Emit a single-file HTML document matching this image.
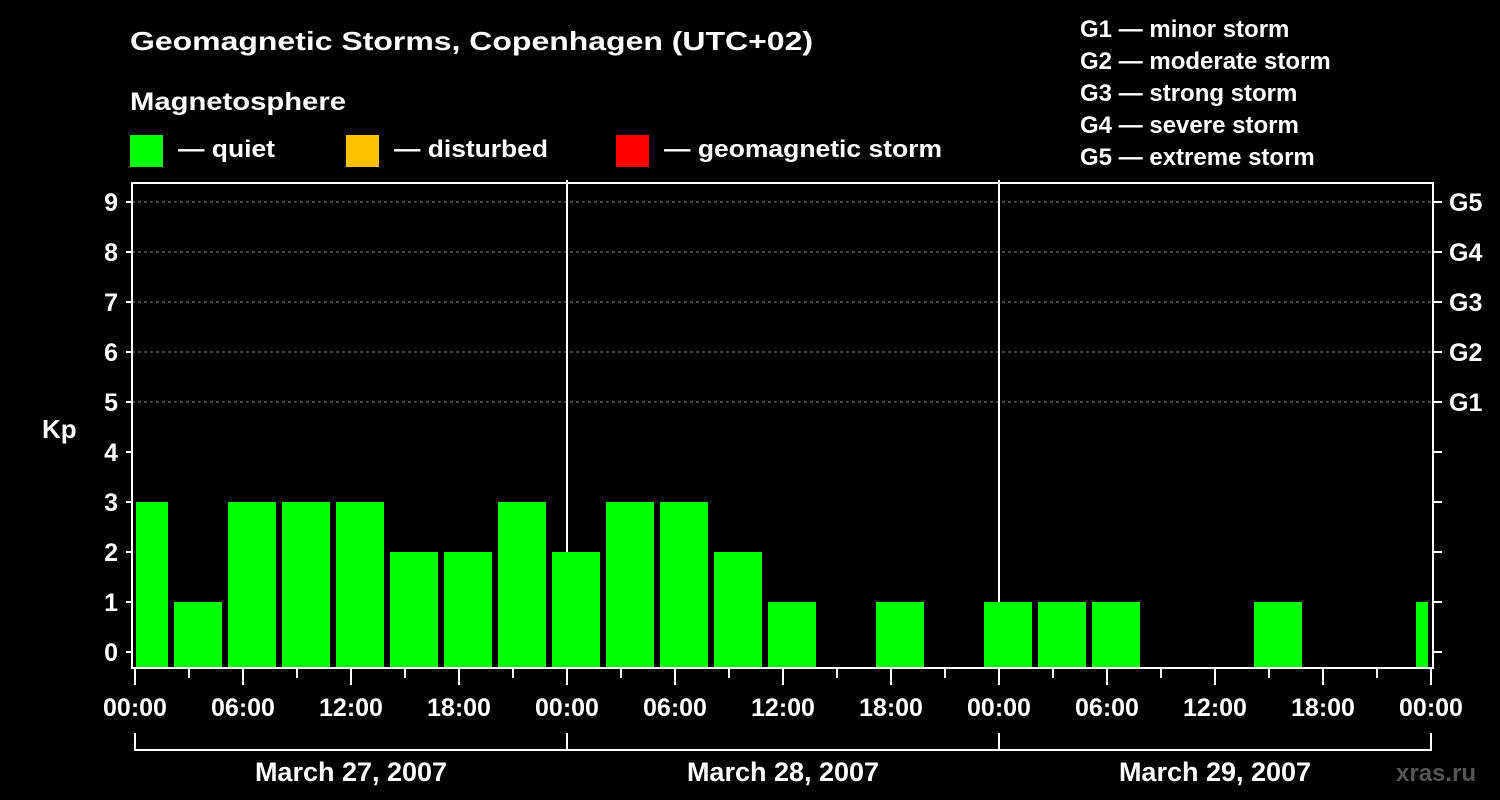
<!DOCTYPE html>
<html><head><meta charset="utf-8"><style>
html,body{margin:0;padding:0;background:#000;}
svg{display:block;font-family:"Liberation Sans",Arial,sans-serif;font-weight:bold;}
</style></head><body>
<svg id="chart" width="1500" height="800" viewBox="0 0 1500 800" xmlns="http://www.w3.org/2000/svg">
<rect width="1500" height="800" fill="#000"/>
<g fill="#fff">
<text x="130" y="50" font-size="26" textLength="683" lengthAdjust="spacingAndGlyphs">Geomagnetic Storms, Copenhagen (UTC+02)</text>
<text x="130" y="110" font-size="25" textLength="216" lengthAdjust="spacingAndGlyphs">Magnetosphere</text>
<rect x="130" y="135" width="33" height="32" fill="#00ff00"/>
<text x="178" y="157" font-size="24" textLength="97" lengthAdjust="spacingAndGlyphs">— quiet</text>
<rect x="346" y="135" width="33" height="32" fill="#ffc000"/>
<text x="394" y="157" font-size="24" textLength="154" lengthAdjust="spacingAndGlyphs">— disturbed</text>
<rect x="616" y="135" width="33" height="32" fill="#ff0000"/>
<text x="664" y="157" font-size="24" textLength="278" lengthAdjust="spacingAndGlyphs">— geomagnetic storm</text>
<g font-size="24">
<text x="1080" y="37">G1 — minor storm</text>
<text x="1080" y="69">G2 — moderate storm</text>
<text x="1080" y="101">G3 — strong storm</text>
<text x="1080" y="133">G4 — severe storm</text>
<text x="1080" y="165">G5 — extreme storm</text>
</g>
<text x="42" y="438" font-size="26">Kp</text>
<text x="1396" y="781" font-size="24" fill="#555">xras.ru</text>
</g>
<g id="grid"></g><g id="bars"></g><g id="axes"></g>
<script>
const kpValues=[3,1,3,3,3,2,2,3, 2,3,3,2,1,0,1,0, 1,1,1,0,0,1,0,0, 1];
const yTicks=[0,1,2,3,4,5,6,7,8,9];
const gLabels=["G1","G2","G3","G4","G5"];
const gLevels=[5,6,7,8,9];
const xTickLabels=["00:00","06:00","12:00","18:00","00:00","06:00","12:00","18:00","00:00","06:00","12:00","18:00","00:00"];
const dayLabels=["March 27, 2007","March 28, 2007","March 29, 2007"];
const NS="http://www.w3.org/2000/svg";
const X0=135,PXH=18,PL=132,PR=1433,PT=183,PB=668;
const xh=h=>X0+h*PXH;
const yk=v=>652-v*50;
function el(tag,attrs,parent,text){const e=document.createElementNS(NS,tag);for(const k in attrs)e.setAttribute(k,attrs[k]);if(text!==undefined)e.textContent=text;parent.appendChild(e);return e;}
const grid=document.getElementById('grid'),bars=document.getElementById('bars'),axes=document.getElementById('axes');
gLevels.forEach((v,i)=>{const l=el('line',{x1:PL,x2:PR,y1:yk(v),y2:yk(v),stroke:'#888','stroke-dasharray':'3,3','stroke-width':1},grid);

});
[1,2].forEach(d=>{const l=el('line',{x1:xh(24*d),x2:xh(24*d),y1:PT-3,y2:PB,stroke:'#fff','stroke-width':2},grid);

});
kpValues.forEach((v,i)=>{if(v<=0)return;const h=-1+3*i;let x0=xh(h)+3,x1=x0+48;x0=Math.max(x0,PL+4);x1=Math.min(x1,PR-5);
const r=el('rect',{x:x0,y:yk(v),width:x1-x0,height:PB-1-yk(v),fill:'#00ff00'},bars);

});
const frame=el('rect',{x:PL,y:PT,width:PR-PL,height:PB-PT,fill:'none',stroke:'#fff','stroke-width':2},axes);


yTicks.forEach(v=>{el('line',{x1:PL-6,x2:PL,y1:yk(v),y2:yk(v),stroke:'#fff','stroke-width':2},axes);
el('line',{x1:PR,x2:PR+9,y1:yk(v),y2:yk(v),stroke:'#fff','stroke-width':2},axes);
const t=el('text',{x:118,y:yk(v)+9,'font-size':25,fill:'#fff','text-anchor':'end'},axes,String(v));

});
gLabels.forEach((g,i)=>{const t=el('text',{x:1449,y:yk(gLevels[i])+9,'font-size':25,fill:'#fff'},axes,g);

});
for(let h=0;h<=72;h+=3){const major=h%6===0;el('line',{x1:xh(h),x2:xh(h),y1:PB,y2:PB+(major?17:10),stroke:'#fff','stroke-width':2},axes);}
xTickLabels.forEach((s,i)=>{const t=el('text',{x:xh(i*6),y:716,'font-size':25,fill:'#fff','text-anchor':'middle'},axes,s);

});
el('line',{x1:xh(0),x2:xh(72),y1:750,y2:750,stroke:'#fff','stroke-width':2},axes);
for(let d=0;d<=3;d++)el('line',{x1:xh(24*d),x2:xh(24*d),y1:733,y2:751,stroke:'#fff','stroke-width':2},axes);
dayLabels.forEach((s,i)=>{const t=el('text',{x:xh(24*i+12),y:781,'font-size':27,fill:'#fff','text-anchor':'middle'},axes,s);

});
</script>
</svg>
</body></html>
